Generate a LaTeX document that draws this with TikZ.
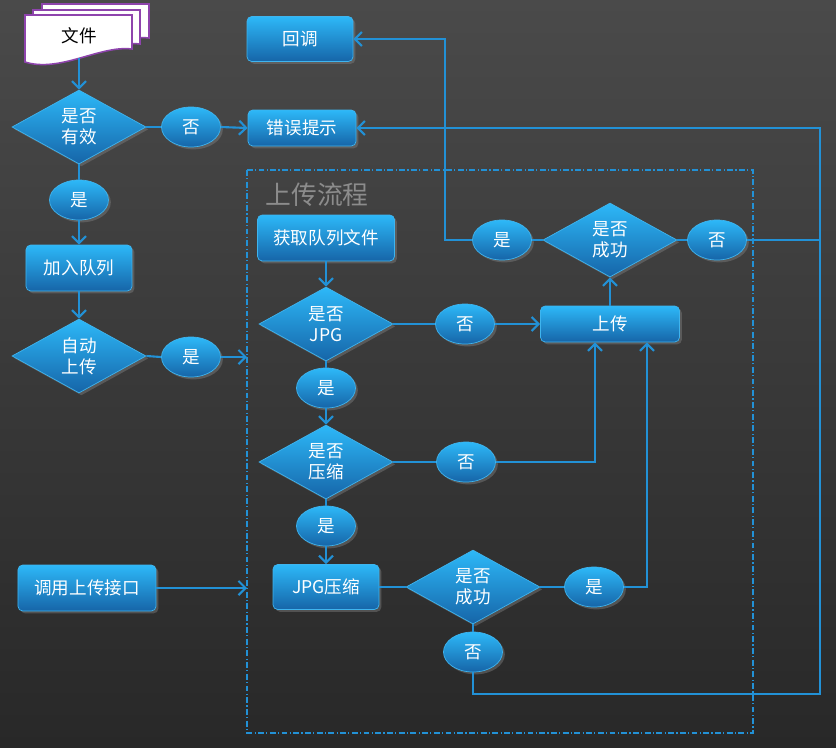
\documentclass[tikz,border=0pt]{standalone}
\usepackage{fontspec}
\setmainfont{Noto Sans CJK SC}
\usetikzlibrary{arrows.meta,shapes.geometric,shadows}

\definecolor{bgtop}{HTML}{4A4A4A}
\definecolor{bgbot}{HTML}{282828}
\definecolor{flow}{HTML}{2291D6}
\definecolor{boxtop}{HTML}{2DB8F8}
\definecolor{boxbot}{HTML}{1665A8}
\definecolor{boxedge}{HTML}{3FB4EE}
\definecolor{docedge}{HTML}{8E44AD}
\definecolor{titlegray}{HTML}{8C8C8C}

\begin{document}
\begin{tikzpicture}[
  x=0.03cm, y=-0.03cm,
  font=\fontsize{15}{18}\selectfont,
  every node/.style={text=white,align=center,inner sep=0pt},
  fancy/.style={draw=boxedge,line width=0.6pt,top color=boxtop,bottom color=boxbot,
    drop shadow={shadow xshift=2pt,shadow yshift=-2pt,opacity=0.45}},
  box/.style={fancy,rectangle,rounded corners=4pt},
  ask/.style={fancy,diamond,aspect=1.8,minimum width=4.02cm,minimum height=2.22cm},
  ans/.style={fancy,ellipse,minimum width=1.77cm,minimum height=1.2cm},
  flowline/.style={flow,line width=1.8pt},
  >={Straight Barb[length=6pt,width=12pt]}]
  % background
  \fill[top color=bgtop,bottom color=bgbot] (0,0) rectangle (836,747);
  % upload frame
  \draw[flow,line width=1pt,dash pattern=on 5pt off 2pt on 1pt off 2pt] (247,170) rectangle (753,733);
  \node[text=titlegray,font=\fontsize{22}{26}\selectfont] (title) at (317,195) {上传流程};
  % file stack
  \foreach \dx/\dy in {17/-11,8/-5,0/0}
    \draw[docedge,line width=1.3pt,fill=white,shift={(\dx,\dy)}]
      (25,15) -- (132,15) -- (132,49) .. controls (100,45) and (60,73) .. (25,62) -- cycle;
  \node[text=black,minimum width=3.21cm,minimum height=1.32cm] (file) at (79,36) {文件};

  \node[ask] (valid) at (79,127) {是否\\有效};
  \node[ans] (no1) at (191,127) {否};
  \node[box,minimum width=3.24cm,minimum height=1.08cm] (err) at (302,128) {错误提示};
  \node[box,minimum width=3.18cm,minimum height=1.35cm] (cb) at (300,39) {回调};
  \node[ans] (yes1) at (79,200) {是};
  \node[box,minimum width=3.18cm,minimum height=1.38cm] (queue) at (79,268) {加入队列};
  \node[ask] (auto) at (79,356) {自动\\上传};
  \node[ans] (yes2) at (191,357) {是};
  \node[box,minimum width=4.14cm,minimum height=1.38cm] (api) at (87,588) {调用上传接口};

  \node[box,minimum width=4.11cm,minimum height=1.38cm] (fetch) at (326,238) {获取队列文件};
  \node[ask] (isjpg) at (326,324) {是否\\JPG};
  \node[ans] (no2) at (465,324) {否};
  \node[box,minimum width=4.17cm,minimum height=1.08cm] (upload) at (610,324) {上传};
  \node[ans] (yes3) at (326,388) {是};
  \node[ask] (zip) at (326,462) {是否\\压缩};
  \node[ans] (no3) at (466,462) {否};
  \node[ans] (yes4) at (326,526) {是};
  \node[box,minimum width=3.18cm,minimum height=1.35cm] (comp) at (326,587) {JPG压缩};
  \node[ask] (ok2) at (473,587) {是否\\成功};
  \node[ans] (yes5) at (594,587) {是};
  \node[ans] (no4) at (473,652) {否};
  \node[ask] (ok1) at (610,240) {是否\\成功};
  \node[ans] (yes6) at (502,240) {是};
  \node[ans] (no5) at (717,240) {否};

  \coordinate (autoin) at (247,357);
  \coordinate (apiin) at (247,588);
  \coordinate (bus) at (820,694);
  \coordinate (turn) at (445,39);

  \draw[flowline,->] (file.south) -- (valid.north);
  \draw[flowline] (valid.east) -- (no1.west);
  \draw[flowline,->] (no1.east) -- (err.west);
  \draw[flowline] (valid.south) -- (yes1.north);
  \draw[flowline,->] (yes1.south) -- (queue.north);
  \draw[flowline,->] (queue.south) -- (auto.north);
  \draw[flowline] (auto.east) -- (yes2.west);
  \draw[flowline,->] (yes2.east) -- (autoin);
  \draw[flowline,->] (api.east) -- (apiin);
  \draw[flowline,->] (fetch.south) -- (isjpg.north);
  \draw[flowline] (isjpg.east) -- (no2.west);
  \draw[flowline,->] (no2.east) -- (upload.west);
  \draw[flowline] (isjpg.south) -- (yes3.north);
  \draw[flowline,->] (yes3.south) -- (zip.north);
  \draw[flowline] (zip.east) -- (no3.west);
  \draw[flowline,->] (no3.east) -| ([xshift=-0.45cm]upload.south);
  \draw[flowline] (zip.south) -- (yes4.north);
  \draw[flowline,->] (yes4.south) -- (comp.north);
  \draw[flowline] (comp.east) -- (ok2.west);
  \draw[flowline] (ok2.east) -- (yes5.west);
  \draw[flowline,->] (yes5.east) -| ([xshift=1.11cm]upload.south);
  \draw[flowline] (ok2.south) -- (no4.north);
  \draw[flowline,->] (no4.south) |- (bus) |- (err.east);
  \draw[flowline,->] (upload.north) -- (ok1.south);
  \draw[flowline] (ok1.west) -- (yes6.east);
  \draw[flowline,->] (yes6.west) -| (turn) -- (cb.east);
  \draw[flowline] (ok1.east) -- (no5.west);
  \draw[flowline] (no5.east) -- (no5.east -| bus);
\end{tikzpicture}
\end{document}
